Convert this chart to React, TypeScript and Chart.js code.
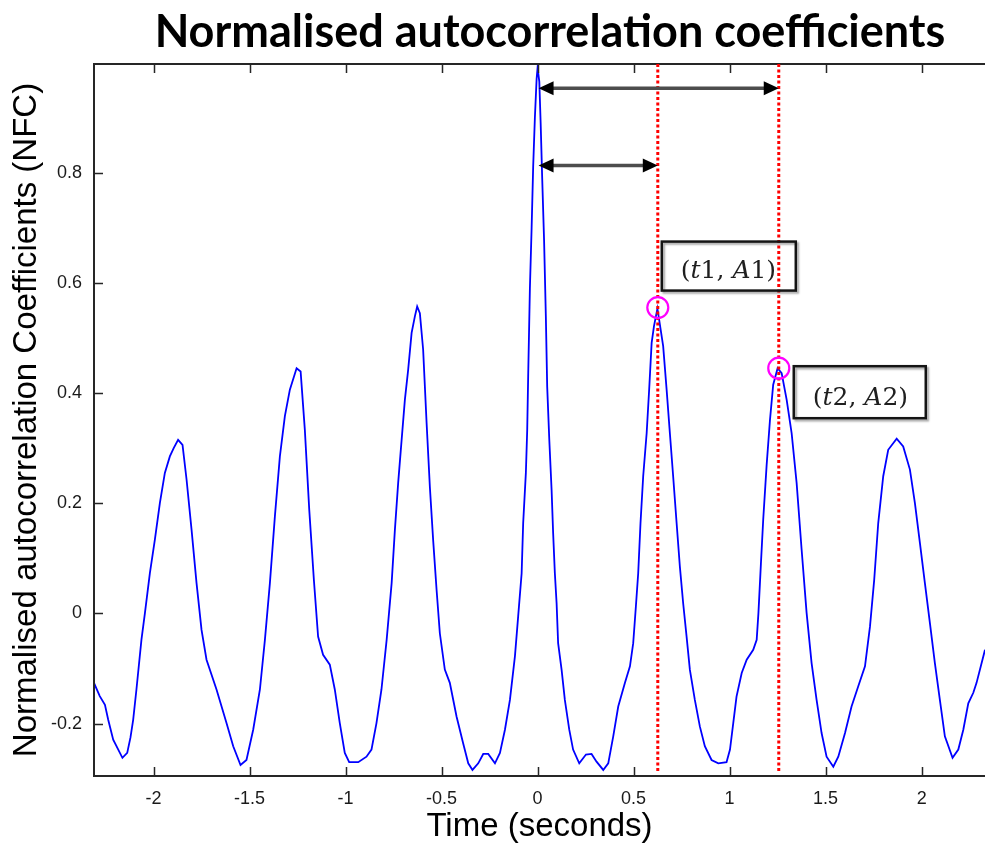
import React, { useEffect, useRef } from "react";
import { Chart, registerables } from "chart.js";

Chart.register(...registerables);

// ---- data -------------------------------------------------------------
const times = [
  -2.309, -2.28, -2.253, -2.236, -2.21, -2.162, -2.137, -2.12, -2.106, -2.089, -2.063, -2.045, -2.019, -1.993,
  -1.967, -1.941, -1.915, -1.895, -1.872, -1.849, -1.828, -1.802, -1.776, -1.75, -1.724, -1.672, -1.62, -1.585,
  -1.547, -1.516, -1.481, -1.446, -1.42, -1.394, -1.368, -1.342, -1.316, -1.29, -1.255, -1.234, -1.212, -1.189,
  -1.165, -1.143, -1.117, -1.082, -1.056, -1.03, -1.004, -0.981, -0.934, -0.891, -0.865, -0.839, -0.813, -0.786,
  -0.76, -0.743, -0.726, -0.708, -0.691, -0.674, -0.656, -0.639, -0.627, -0.613, -0.596, -0.578, -0.561, -0.544,
  -0.526, -0.509, -0.483, -0.457, -0.422, -0.388, -0.361, -0.339, -0.309, -0.283, -0.257, -0.222, -0.196, -0.17,
  -0.144, -0.118, -0.101, -0.083, -0.075, -0.061, -0.054, -0.049, -0.04, -0.031, -0.023, -0.014, -0.005, 0.0,
  0.009, 0.016, 0.024, 0.034, 0.043, 0.05, 0.061, 0.073, 0.081, 0.09, 0.099, 0.107, 0.125, 0.142, 0.165, 0.185,
  0.217, 0.252, 0.281, 0.307, 0.342, 0.368, 0.394, 0.42, 0.455, 0.481, 0.498, 0.512, 0.524, 0.536, 0.55, 0.568,
  0.581, 0.594, 0.606, 0.624, 0.633, 0.654, 0.672, 0.689, 0.706, 0.724, 0.741, 0.758, 0.776, 0.793, 0.819, 0.845,
  0.871, 0.906, 0.941, 0.984, 1.002, 1.019, 1.036, 1.063, 1.089, 1.123, 1.141, 1.15, 1.163, 1.175, 1.193, 1.21,
  1.227, 1.25, 1.271, 1.297, 1.323, 1.349, 1.375, 1.401, 1.427, 1.453, 1.479, 1.505, 1.54, 1.566, 1.601, 1.635,
  1.67, 1.705, 1.731, 1.753, 1.774, 1.8, 1.826, 1.87, 1.904, 1.939, 1.965, 1.991, 2.017, 2.043, 2.069, 2.095,
  2.121, 2.161, 2.191, 2.217, 2.243, 2.269, 2.286, 2.33,
];
const values = [
  -0.127, -0.15, -0.166, -0.193, -0.229, -0.262, -0.253, -0.225, -0.193, -0.138, -0.048, 0.0, 0.073, 0.134,
  0.2, 0.255, 0.285, 0.3, 0.315, 0.306, 0.243, 0.152, 0.055, -0.03, -0.084, -0.138, -0.199, -0.241,
  -0.275, -0.266, -0.211, -0.138, -0.048, 0.055, 0.176, 0.285, 0.358, 0.406, 0.445, 0.439, 0.333, 0.188,
  0.061, -0.042, -0.075, -0.093, -0.138, -0.199, -0.253, -0.27, -0.27, -0.26, -0.247, -0.199, -0.138, -0.048,
  0.055, 0.152, 0.237, 0.315, 0.388, 0.442, 0.509, 0.539, 0.557, 0.545, 0.479, 0.346, 0.23, 0.134,
  0.043, -0.036, -0.102, -0.126, -0.187, -0.235, -0.272, -0.284, -0.272, -0.255, -0.255, -0.272, -0.253, -0.211,
  -0.157, -0.078, -0.005, 0.073, 0.164, 0.255, 0.333, 0.43, 0.59, 0.7, 0.81, 0.9, 0.97, 0.99,
  0.965, 0.89, 0.79, 0.675, 0.54, 0.412, 0.315, 0.224, 0.146, 0.073, 0.019, -0.054, -0.102, -0.157, -0.211, -0.247,
  -0.272, -0.256, -0.255, -0.269, -0.284, -0.272, -0.223, -0.169, -0.126, -0.096, -0.054, 0.013, 0.073, 0.164, 0.249, 0.327,
  0.406, 0.491, 0.521, 0.553, 0.533, 0.485, 0.406, 0.327, 0.249, 0.164, 0.085, 0.019, -0.042, -0.102, -0.157, -0.205,
  -0.241, -0.266, -0.272, -0.27, -0.247, -0.199, -0.151, -0.108, -0.084, -0.066, -0.048, 0.0, 0.09, 0.17, 0.27, 0.35,
  0.415, 0.445, 0.436, 0.388, 0.327, 0.237, 0.116, 0.001, -0.09, -0.157, -0.217, -0.26, -0.278, -0.26, -0.217, -0.169,
  -0.132, -0.096, -0.024, 0.061, 0.164, 0.249, 0.297, 0.317, 0.303, 0.261, 0.2, 0.128, 0.055, -0.017, -0.09, -0.157,
  -0.223, -0.262, -0.247, -0.211, -0.163, -0.144, -0.126, -0.066,
];

const xTicks = [-2, -1.5, -1, -0.5, 0, 0.5, 1, 1.5, 2];
const xTickLabels = ["-2", "-1.5", "-1", "-0.5", "0", "0.5", "1", "1.5", "2"];
const yTicks = [-0.2, 0, 0.2, 0.4, 0.6, 0.8];
const yTickLabels = ["-0.2", "0", "0.2", "0.4", "0.6", "0.8"];

// marked peaks (t1, A1), (t2, A2)
const peakTimes = [0.626, 1.256];
const peakValues = [0.555, 0.445];
const peakLabels = ["(t1, A1)", "(t2, A2)"];
// double arrows from lag 0 to each marked peak (y level in data units)
const arrowLevels = [0.953, 0.813];
const arrowTargets = [1.256, 0.626];

const TITLE = "Normalised autocorrelation coefficients";
const X_TITLE = "Time (seconds)";
const Y_TITLE = "Normalised autocorrelation Coefficients (NFC)";

// ---- drawing helpers --------------------------------------------------
function drawMathText(ctx: CanvasRenderingContext2D, str: string, x: number, y: number, size: number) {
  let cx = x;
  for (const ch of str) {
    const italic = /[A-Za-z]/.test(ch);
    ctx.font = `${italic ? "italic " : ""}${size}px "DejaVu Serif"`;
    ctx.fillText(ch, cx, y);
    cx += ctx.measureText(ch).width;
  }
}

function drawDoubleArrow(ctx: CanvasRenderingContext2D, x1: number, x2: number, y: number) {
  const head = 15;
  const half = 7;
  ctx.strokeStyle = "#4d4d4d";
  ctx.lineWidth = 3.5;
  ctx.beginPath();
  ctx.moveTo(x1 + head - 1, y);
  ctx.lineTo(x2 - head + 1, y);
  ctx.stroke();
  ctx.fillStyle = "#000";
  ctx.beginPath();
  ctx.moveTo(x1, y);
  ctx.lineTo(x1 + head, y - half);
  ctx.lineTo(x1 + head, y + half);
  ctx.closePath();
  ctx.fill();
  ctx.beginPath();
  ctx.moveTo(x2, y);
  ctx.lineTo(x2 - head, y - half);
  ctx.lineTo(x2 - head, y + half);
  ctx.closePath();
  ctx.fill();
}

const annotations = {
  id: "annotations",
  afterDatasetsDraw(chart: any) {
    const { ctx, chartArea: a, scales } = chart;
    const x = scales.x;
    const y = scales.y;
    ctx.save();

    // frame (MATLAB box: top, left, bottom; right side is cut off)
    ctx.strokeStyle = "#262626";
    ctx.lineWidth = 2;
    ctx.beginPath();
    ctx.moveTo(a.right, a.top);
    ctx.lineTo(a.left, a.top);
    ctx.lineTo(a.left, a.bottom);
    ctx.lineTo(a.right, a.bottom);
    ctx.stroke();

    // inward ticks
    const TL = 9;
    ctx.lineWidth = 1.5;
    ctx.beginPath();
    for (const v of xTicks) {
      const px = Math.round(x.getPixelForValue(v)) + 0.5;
      ctx.moveTo(px, a.bottom);
      ctx.lineTo(px, a.bottom - TL);
      ctx.moveTo(px, a.top);
      ctx.lineTo(px, a.top + TL);
    }
    for (const v of yTicks) {
      const py = Math.round(y.getPixelForValue(v)) + 0.5;
      ctx.moveTo(a.left, py);
      ctx.lineTo(a.left + TL, py);
    }
    ctx.stroke();

    // red dotted verticals at the marked lags
    ctx.strokeStyle = "#ff0000";
    ctx.lineWidth = 3;
    ctx.setLineDash([3, 2.5]);
    for (const t of peakTimes) {
      const px = x.getPixelForValue(t);
      ctx.beginPath();
      ctx.moveTo(px, a.top);
      ctx.lineTo(px, a.bottom - 4);
      ctx.stroke();
    }
    ctx.setLineDash([]);

    // double arrows
    const x0 = x.getPixelForValue(0);
    arrowLevels.forEach((lv, i) => {
      drawDoubleArrow(ctx, x0 + 1, x.getPixelForValue(arrowTargets[i]), y.getPixelForValue(lv));
    });

    // magenta circles
    ctx.strokeStyle = "#ff00ff";
    ctx.lineWidth = 2.2;
    peakTimes.forEach((t, i) => {
      ctx.beginPath();
      ctx.arc(x.getPixelForValue(t), y.getPixelForValue(peakValues[i]), 10.5, 0, Math.PI * 2);
      ctx.stroke();
    });

    // label boxes
    const boxes = [
      { dx: 4, dy: -66, w: 134, h: 49 },
      { dx: 15, dy: -2, w: 132, h: 52 },
    ];
    peakTimes.forEach((t, i) => {
      const px = x.getPixelForValue(t);
      const py = y.getPixelForValue(peakValues[i]);
      const b = boxes[i];
      const bx = px + b.dx;
      const by = py + b.dy;
      ctx.save();
      ctx.shadowColor = "rgba(0,0,0,0.35)";
      ctx.shadowOffsetX = 2;
      ctx.shadowOffsetY = 2;
      ctx.shadowBlur = 2;
      ctx.strokeStyle = "#141414";
      ctx.lineWidth = 2.5;
      ctx.strokeRect(bx, by, b.w, b.h);
      ctx.restore();
      ctx.fillStyle = "#1f1f1f";
      ctx.textBaseline = "alphabetic";
      ctx.textAlign = "left";
      drawMathText(ctx, peakLabels[i], bx + 19, by + b.h - 13, 25);
    });

    // chart title
    ctx.fillStyle = "#000";
    ctx.font = 'bold 45px "Lato"';
    ctx.textAlign = "center";
    ctx.textBaseline = "alphabetic";
    ctx.fillText(TITLE, 550, 47);

    ctx.restore();
  },
};

// ---- component --------------------------------------------------------
export default function App() {
  const ref = useRef<HTMLCanvasElement | null>(null);

  useEffect(() => {
    if (!ref.current) return;
    const tickFont = { family: '"Liberation Sans", Arial, sans-serif', size: 18 };
    const titleFont = { family: '"Liberation Sans", Arial, sans-serif', size: 33, lineHeight: 1.0 };
    const chart = new Chart(ref.current, {
      type: "line",
      data: {
        datasets: [
          {
            data: times.map((t, i) => ({ x: t, y: values[i] })),
            borderColor: "#0000ff",
            borderWidth: 1.8,
            pointRadius: 0,
            tension: 0,
            fill: false,
          },
        ],
      },
      options: {
        responsive: false,
        animation: false,
        devicePixelRatio: 1,
        layout: { padding: { left: 0, right: 0, top: 64, bottom: 0 } },
        plugins: {
          legend: { display: false },
          tooltip: { enabled: false },
          title: { display: false },
        },
        scales: {
          x: {
            type: "linear",
            min: -2.31,
            max: 2.33,
            grid: { display: false, drawTicks: false },
            border: { display: false },
            afterBuildTicks: (s: any) => {
              s.ticks = xTicks.map((v) => ({ value: v }));
            },
            afterFit: (s: any) => {
              s.height = 67;
            },
            ticks: {
              padding: 12,
              color: "#1a1a1a",
              font: tickFont,
              maxRotation: 0,
              autoSkip: false,
              callback: (v: any) => {
                const i = xTicks.indexOf(Number(v));
                return i >= 0 ? xTickLabels[i] : "";
              },
            },
            title: {
              display: true,
              text: X_TITLE,
              color: "#000",
              font: titleFont,
              padding: { top: 0, bottom: 0 },
            },
          },
          y: {
            type: "linear",
            min: -0.295,
            max: 0.997,
            grid: { display: false, drawTicks: false },
            border: { display: false },
            afterBuildTicks: (s: any) => {
              s.ticks = yTicks.map((v) => ({ value: v }));
            },
            afterFit: (s: any) => {
              s.width = 94;
            },
            ticks: {
              padding: 12,
              color: "#1a1a1a",
              font: tickFont,
              autoSkip: false,
              callback: (v: any) => {
                const i = yTicks.findIndex((t) => Math.abs(t - Number(v)) < 1e-9);
                return i >= 0 ? yTickLabels[i] : "";
              },
            },
            title: {
              display: true,
              text: Y_TITLE,
              color: "#000",
              font: titleFont,
              padding: { top: 10, bottom: 0 },
            },
          },
        },
      },
      plugins: [annotations],
    } as any);
    return () => chart.destroy();
  }, []);

  return (
    <div style={{ position: "absolute", left: 0, top: 0, width: 985, height: 843, background: "#fff" }}>
      <canvas ref={ref} width={985} height={843} style={{ display: "block" }} />
    </div>
  );
}
